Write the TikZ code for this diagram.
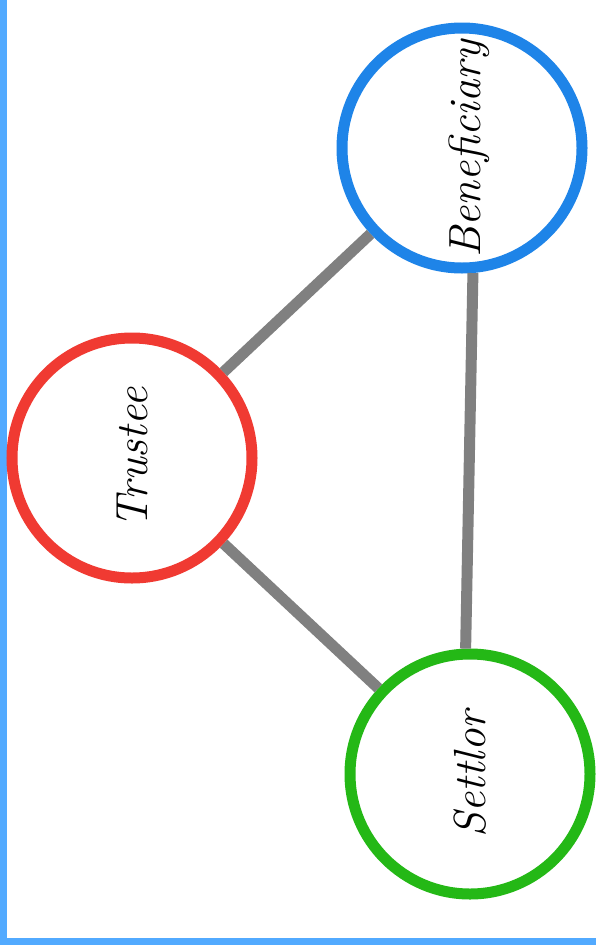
\documentclass[tikz,border=0pt]{standalone}
\usepackage{fontspec}
\begin{document}
\begin{tikzpicture}[x=1pt,y=-1pt,
  role/.style={circle,draw,line width=11pt,minimum size=240pt,inner sep=0pt,fill=white},
  rolelabel/.style={rotate=90,inner sep=0pt,font=\fontsize{45}{52}\selectfont\itshape},
  link/.style={draw=linkgray,line width=11pt}]
\definecolor{bordblue}{RGB}{82,170,255}
\definecolor{benblue}{RGB}{30,132,232}
\definecolor{trred}{RGB}{240,58,50}
\definecolor{setgreen}{RGB}{36,184,22}
\definecolor{linkgray}{RGB}{128,128,128}
\useasboundingbox (0,0) rectangle (596,945);
\fill[white] (0,0) rectangle (596,945);
\fill[bordblue] (0,0) rectangle (7,945);
\fill[bordblue] (0,938) rectangle (596,945);
\node[role,draw=benblue] (ben) at (462,148) {};
\node[role,draw=trred] (tru) at (132,458) {};
\node[role,draw=setgreen] (set) at (470,774) {};
\node[rolelabel] (benl) at ([xshift=7pt,yshift=-1pt]ben.center) {Beneficiary};
\node[rolelabel] (trul) at (tru.center) {Trustee};
\node[rolelabel] (setl) at (set.center) {Settlor};
\path[link] (tru) -- (ben);
\path[link] (tru) -- (set);
\path[link] (ben.-85) -- (set.92);
\end{tikzpicture}
\end{document}
